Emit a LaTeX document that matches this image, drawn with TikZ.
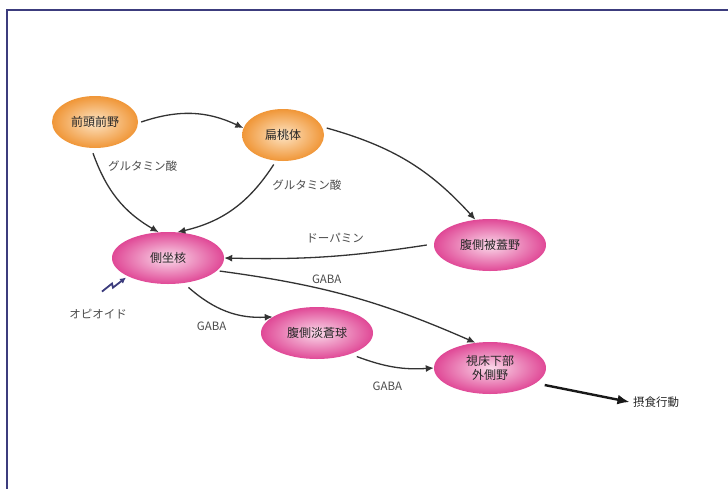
\documentclass[tikz,border=0pt]{standalone}
\usepackage{fontspec}
\setmainfont{Noto Sans CJK JP}
\usetikzlibrary{shapes.geometric,arrows.meta}
\definecolor{pinkout}{RGB}{224,72,150}
\definecolor{pinkin}{RGB}{250,218,234}
\definecolor{orout}{RGB}{240,150,55}
\definecolor{orin}{RGB}{253,228,196}
\definecolor{framec}{RGB}{60,60,125}

\begin{document}
\begin{tikzpicture}[x=1pt,y=-1pt,
    orangeball/.style={ellipse,minimum width=86pt,minimum height=52pt,inner sep=0pt,
      inner color=orin,outer color=orout,text=black!85,font=\fontsize{12}{14}\selectfont},
    pinkball/.style={ellipse,minimum width=112pt,minimum height=52pt,inner sep=0pt,
      inner color=pinkin,outer color=pinkout,text=black!85,font=\fontsize{12}{14}\selectfont},
    link/.style={-{Latex[length=8pt,width=7pt]},line width=1.3pt,black!80},
    tag/.style={text=black!70,font=\fontsize{11.5}{13}\selectfont}
  ]
  \useasboundingbox (0,0) rectangle (728,488);
  \fill[white] (0,0) rectangle (728,488);
  \draw[line width=2.2pt,framec] (7,490) -- (7,10) -- (730,10);

  % nodes
  \node[orangeball] (pfc) at (95,122) {前頭前野};
  \node[orangeball,minimum width=82pt] (amy) at (283,135) {扁桃体};
  \node[pinkball] (nac) at (168,258) {側坐核};
  \node[pinkball] (vta) at (490,245) {腹側被蓋野};
  \node[pinkball] (vp) at (317,333) {腹側淡蒼球};
  \node[pinkball,align=center] (lh) at (490,368) {視床下部\\外側野};
  \node[tag,text=black!85] (eat) at (656,402) {摂食行動};
  \node[tag] (opi) at (98,314) {オピオイド};

  % connectors
  \draw[link] (pfc.east) ++(3,0) to[bend left=22] (amy.170);
  \draw[link] (pfc.south) ++(-2,5) to[bend right=20] node[tag,pos=0.12,right=6pt] {グルタミン酸} (nac.110);
  \draw[link] (amy.250) ++(0,4) to[bend left=22] node[tag,pos=0.2,right=10pt] {グルタミン酸} (nac.70);
  \draw[link] (amy.10) ++(4,0) to[bend left=16] (vta.120);
  \draw[link] (vta.west) ++(-7,0) to[bend left=5] node[tag,above=9pt,pos=0.45] {ドーパミン} (nac.east);
  \draw[link] (nac.-15) ++(3,0) to[bend left=8] node[tag,pos=0.4,above=3pt] {GABA} (lh.120);
  \draw[link] (nac.-50) ++(0,5) to[bend right=22] node[tag,pos=0.3,below=14pt] {GABA} (vp.160);
  \draw[link] (vp.-25) ++(0,5) to[bend right=12] node[tag,pos=0.4,below=12pt] {GABA} (lh.west);
  \draw[-{Latex[length=12pt,width=10pt]},line width=2.4pt,black!90] (lh.-15) ++(6,4) -- (eat.west);
  \draw[-{Latex[length=6pt,width=6pt]},line width=1.8pt,framec]
    (opi.north) ++(4,-14) -- ++(10,-8) -- ++(1,4) -- ++(13,-10);
\end{tikzpicture}
\end{document}
